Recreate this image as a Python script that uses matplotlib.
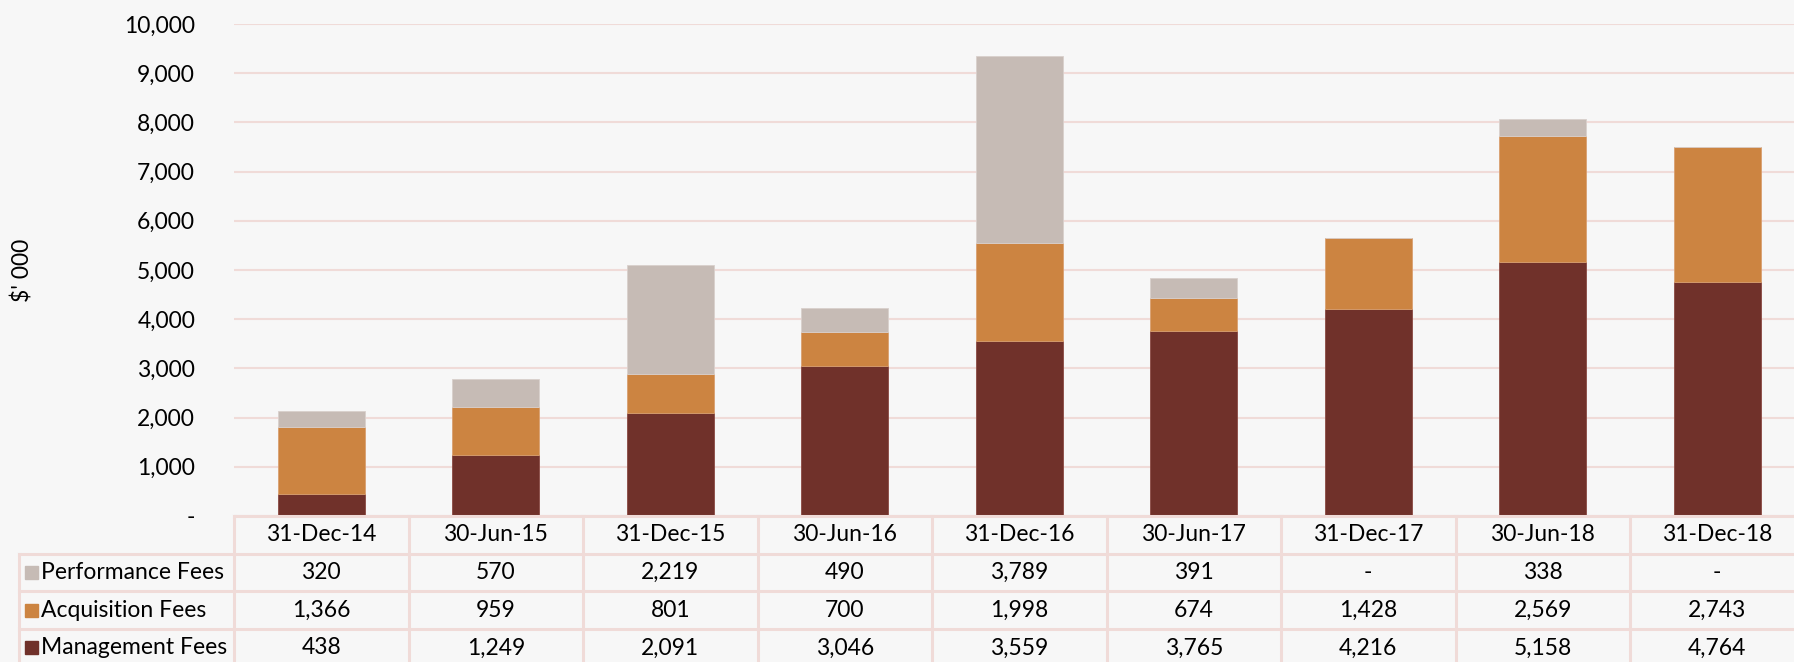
import matplotlib.pyplot as plt
import numpy as np

periods = ["31-Dec-14", "30-Jun-15", "31-Dec-15", "30-Jun-16", "31-Dec-16",
           "30-Jun-17", "31-Dec-17", "30-Jun-18", "31-Dec-18"]
management = [438, 1249, 2091, 3046, 3559, 3765, 4216, 5158, 4764]
acquisition = [1366, 959, 801, 700, 1998, 674, 1428, 2569, 2743]
performance = [320, 570, 2219, 490, 3789, 391, 0, 338, 0]

y_ticks = list(range(0, 10001, 1000))

c_mgmt = "#70312a"
c_acq = "#cc8441"
c_perf = "#c6bbb5"
bg = "#f7f7f7"
grid_c = "#f0dbd8"
font = ["Lato", "DejaVu Sans"]
fs = 16.5

W, H = 1794, 662
fig = plt.figure(figsize=(W / 100, H / 100), dpi=100, facecolor=bg)

# main plot area (pixel layout)
left, right = 234, 1804.5
top, zero = 24, 516
ax = fig.add_axes([left / W, (H - zero) / H, (right - left) / W, (zero - top) / H])
ax.set_facecolor(bg)

x = np.arange(len(periods))
mg = np.array(management)
aq = np.array(acquisition)
pf = np.array(performance)
ax.bar(x, mg, width=0.5, color=c_mgmt, edgecolor="#8a4a43", linewidth=0.6, zorder=3)
ax.bar(x, aq, width=0.5, bottom=mg, color=c_acq, edgecolor="#d9a070", linewidth=0.6, zorder=3)
ax.bar(x, pf, width=0.5, bottom=mg + aq, color=c_perf, edgecolor="#d9d0cc", linewidth=0.6, zorder=3)

ax.set_xlim(-0.5, len(periods) - 0.5)
ax.set_ylim(0, 10000)
ax.set_yticks(y_ticks)
ax.set_yticklabels(["-" if v == 0 else f"{v:,}" for v in y_ticks], fontsize=fs, family=font)
ax.tick_params(axis="y", length=0, pad=28)
ax.set_xticks([])
ax.grid(axis="y", color=grid_c, linewidth=1.5, zorder=0)
for s in ax.spines.values():
    s.set_visible(False)
fig.text(23 / W, 1 - 270 / H, "$' 000", rotation=90, ha="center", va="center",
         fontsize=fs, family=font)

# data table below
tleft = 19
row_h = 37.7
tbottom = zero + 4 * row_h
unit = (right - left) / len(periods)
tx0 = -0.5 - (left - tleft) / unit
tax = fig.add_axes([tleft / W, (H - tbottom) / H, (right - tleft) / W, (tbottom - zero) / H])
tax.set_xlim(tx0, len(periods) - 0.5)
tax.set_ylim(4, 0)
tax.axis("off")
tax.patch.set_alpha(0)

line_kw = dict(color=grid_c, linewidth=2.2, clip_on=False)
# horizontal lines
tax.plot([-0.5, len(periods) - 0.5], [0, 0], **line_kw)
for r in range(1, 5):
    tax.plot([tx0, len(periods) - 0.5], [r, r], **line_kw)
# vertical lines
tax.plot([tx0, tx0], [1, 4], **line_kw)
for c in range(len(periods) + 1):
    tax.plot([c - 0.5, c - 0.5], [0, 4], **line_kw)

for i, p in enumerate(periods):
    tax.text(i, 0.5, p, ha="center", va="center", fontsize=fs, family=font)

rows = [("Performance Fees", performance, c_perf),
        ("Acquisition Fees", acquisition, c_acq),
        ("Management Fees", management, c_mgmt)]
sq = 13 / unit
for r, (name, vals, col) in enumerate(rows, start=1):
    tax.add_patch(plt.Rectangle((tx0 + 6 / unit, r + 0.5 - 6.5 / row_h), sq, 13 / row_h,
                                color=col, clip_on=False))
    tax.text(tx0 + 22 / unit, r + 0.5, name, ha="left", va="center", fontsize=fs, family=font)
    for i, v in enumerate(vals):
        tax.text(i, r + 0.5, "-" if v == 0 else f"{v:,}", ha="center", va="center",
                 fontsize=fs, family=font)

fig.savefig("out.png", dpi=100, facecolor=bg)
